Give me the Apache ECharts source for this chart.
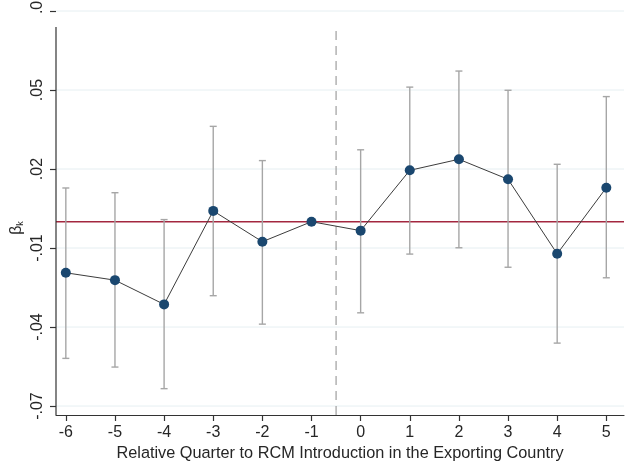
<!DOCTYPE html>
<html>
<head>
<meta charset="utf-8">
<script src="https://cdn.jsdelivr.net/npm/echarts@6/dist/echarts.min.js"></script>
<style>
  html, body { margin: 0; padding: 0; background: #ffffff; }
  #chart { width: 629px; height: 462px; }
</style>
</head>
<body>
<div id="chart"></div>
<script>
// Event-study coefficients by quarter relative to RCM introduction
const quarters = [-6, -5, -4, -3, -2, -1, 0, 1, 2, 3, 4, 5];
const beta     = [-0.0194, -0.0222, -0.0314, 0.0041, -0.0076, 0.0, -0.0034, 0.0195, 0.0237, 0.0161, -0.0122, 0.0129];
const ciLow    = [-0.0519, -0.0552, -0.0634, -0.0281, -0.0389, null, -0.0346, -0.0123, -0.0099, -0.0173, -0.0461, -0.0213];
const ciHigh   = [0.0128, 0.0110, 0.0008, 0.0362, 0.0232, null, 0.0273, 0.0511, 0.0572, 0.0499, 0.0218, 0.0475];
const yTicks   = [-0.07, -0.04, -0.01, 0.02, 0.05, 0.08];
const yTickLabels = ['-.07', '-.04', '-.01', '.02', '.05', '.08'];
const eventQuarter = -0.5;   // RCM introduction falls between quarters -1 and 0

const Y_MIN = -0.0734, Y_MAX = 0.08, Y_AXIS_TOP = 0.0739;
const X_MIN = -6.2, X_MAX = 5.36;
const FONT = 'Liberation Sans, Arial, sans-serif';
const TEXT = '#262626';

const ciData = quarters.map((q, i) => [q, ciLow[i], ciHigh[i]]).filter(d => d[1] !== null);
const pointData = quarters.map((q, i) => [q, beta[i]]);

// full-width horizontal rule at a given y value
function hRule(color, width) {
  return (params, api) => {
    const cs = params.coordSys;
    const y = api.coord([X_MIN, api.value(1)])[1];
    return {
      type: 'line',
      shape: { x1: cs.x, y1: y, x2: cs.x + cs.width, y2: y },
      style: { stroke: color, lineWidth: width }
    };
  };
}

// vertical rule spanning [value(1), value(2)] at x = value(0)
function vRule(color, width, dash) {
  return (params, api) => {
    const a = api.coord([api.value(0), api.value(1)]);
    const b = api.coord([api.value(0), api.value(2)]);
    return {
      type: 'line',
      shape: { x1: a[0], y1: a[1], x2: b[0], y2: b[1] },
      style: { stroke: color, lineWidth: width, lineDash: dash || null }
    };
  };
}

const chart = echarts.init(document.getElementById('chart'), null, { renderer: 'canvas' });

chart.setOption({
  backgroundColor: '#ffffff',
  animation: false,
  grid: { left: 56, right: 5, top: 11, bottom: 47, containLabel: false, outerBoundsMode: 'none' },
  xAxis: {
    type: 'value',
    min: X_MIN,
    max: X_MAX,
    axisLine: { show: true, onZero: false, lineStyle: { color: '#333', width: 1.2 } },
    axisTick: { show: true, length: 6, customValues: quarters, lineStyle: { color: '#333', width: 1.2 } },
    axisLabel: {
      customValues: quarters,
      fontSize: 16, color: TEXT, fontFamily: FONT, margin: 10,
      formatter: v => String(v)
    },
    splitLine: { show: false },
    name: 'Relative Quarter to RCM Introduction in the Exporting Country',
    nameLocation: 'middle',
    nameGap: 15,
    nameTextStyle: { fontSize: 16.3, color: TEXT, fontFamily: FONT }
  },
  yAxis: {
    type: 'value',
    min: Y_MIN,
    max: Y_MAX,
    axisLine: { show: false, onZero: false },
    axisTick: { show: true, length: 6, customValues: yTicks, lineStyle: { color: '#333', width: 1.2 } },
    axisLabel: {
      customValues: yTicks,
      rotate: 90,
      fontSize: 16, color: TEXT, fontFamily: FONT, margin: 10,
      formatter: v => {
        const idx = yTicks.findIndex(t => Math.abs(t - v) < 1e-6);
        if (idx < 0) return '';
        // the topmost label runs against the upper edge of the canvas
        return idx === yTicks.length - 1 ? '{top|' + yTickLabels[idx] + '}' : yTickLabels[idx];
      },
      rich: {
        top: { fontSize: 16, color: TEXT, fontFamily: FONT, padding: [0, 0, 0, 16] }
      }
    },
    splitLine: { show: false }
  },
  graphic: [{
    type: 'text',
    x: 17, y: 228,
    rotation: Math.PI / 2,
    style: {
      text: '{b|β}{k|k}',
      rich: {
        b: { fontSize: 16, fontFamily: FONT, fill: TEXT },
        k: { fontSize: 9, fontFamily: FONT, fill: TEXT, padding: [8, 0, 0, 0] }
      },
      align: 'center', verticalAlign: 'middle'
    }
  }],
  series: [
    {
      // light horizontal grid lines at the labelled ticks
      type: 'custom',
      silent: true,
      z: 1,
      data: yTicks.map(t => [X_MIN, t]),
      renderItem: hRule('#e6eff2', 1)
    },
    {
      // reference line at zero
      type: 'custom',
      silent: true,
      z: 2,
      data: [[X_MIN, 0]],
      renderItem: hRule('#a3273f', 1.5)
    },
    {
      // left axis line
      type: 'custom',
      silent: true,
      z: 2,
      data: [[X_MIN, Y_MIN, Y_AXIS_TOP]],
      renderItem: vRule('#333', 1.2)
    },
    {
      // dashed marker at RCM introduction
      type: 'custom',
      silent: true,
      z: 2,
      data: [[eventQuarter, Y_MIN, Y_AXIS_TOP]],
      renderItem: vRule('#8a8a8a', 1, [9, 6])
    },
    {
      // 95% confidence intervals
      type: 'custom',
      data: ciData,
      z: 3,
      renderItem: (params, api) => {
        const x = api.value(0);
        const lo = api.coord([x, api.value(1)]);
        const hi = api.coord([x, api.value(2)]);
        const cap = 3.5;
        const style = { stroke: '#a6a6a6', lineWidth: 1.4 };
        return {
          type: 'group',
          children: [
            { type: 'line', shape: { x1: lo[0], y1: lo[1], x2: hi[0], y2: hi[1] }, style },
            { type: 'line', shape: { x1: lo[0] - cap, y1: lo[1], x2: lo[0] + cap, y2: lo[1] }, style },
            { type: 'line', shape: { x1: hi[0] - cap, y1: hi[1], x2: hi[0] + cap, y2: hi[1] }, style }
          ]
        };
      }
    },
    {
      // point estimates
      type: 'line',
      data: pointData,
      z: 5,
      symbol: 'circle',
      symbolSize: 10,
      lineStyle: { color: '#3c3c3c', width: 1 },
      itemStyle: { color: '#1a476f', borderWidth: 0 }
    }
  ]
});
</script>
</body>
</html>
